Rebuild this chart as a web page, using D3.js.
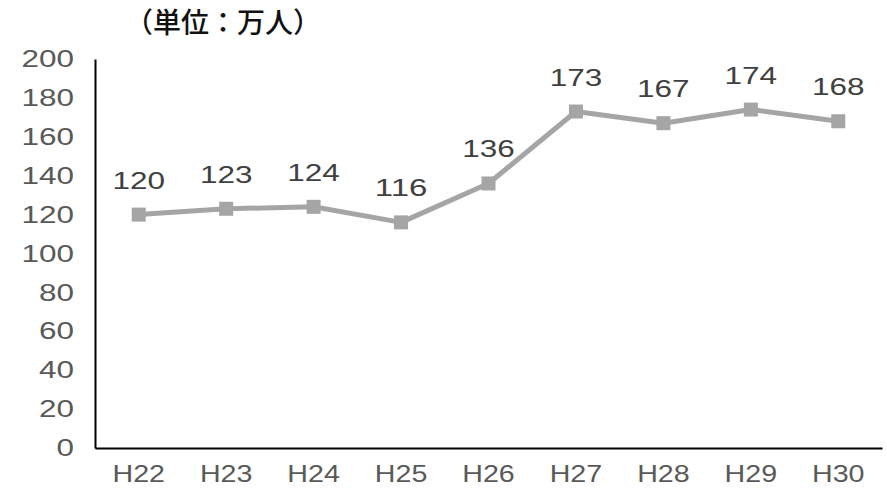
<!DOCTYPE html>
<html>
<head>
<meta charset="utf-8">
<script src="https://cdn.jsdelivr.net/npm/d3@7"></script>
<style>
  body { margin: 0; background: #fff; }
</style>
</head>
<body>
<script>
const years = ["H22", "H23", "H24", "H25", "H26", "H27", "H28", "H29", "H30"];
const visitors = [120, 123, 124, 116, 136, 173, 167, 174, 168];
const yTicks = [0, 20, 40, 60, 80, 100, 120, 140, 160, 180, 200];
const unitLabel = "（単位：万人）";

const width = 887;
const height = 490;
const svg = d3.create("svg").attr("width", width).attr("height", height);

const x = d3.scaleBand().domain(years).range([95, 882]);
const y = d3.scaleLinear().domain([0, 200]).range([448, 59]);

const numFont = "'Liberation Sans', Arial, sans-serif";
const charW = 17.5; // the original font has very wide, round digits

function wideText(sel, color) {
  sel.style("font-family", numFont)
    .style("font-size", "24px")
    .style("fill", color)
    .attr("lengthAdjust", "spacingAndGlyphs")
    .attr("textLength", function () { return this.textContent.length * charW; });
}

// unit title
svg.append("text")
  .attr("x", 125)
  .attr("y", 33)
  .style("font-family", "'Noto Sans CJK JP', sans-serif")
  .style("font-size", "28px")
  .style("font-weight", 500)
  .style("fill", "#111")
  .text(unitLabel);

// y axis
const yAxis = svg.append("g")
  .attr("transform", "translate(95,0)")
  .call(d3.axisLeft(y).tickValues(yTicks).tickSize(0).tickPadding(21));
yAxis.select(".domain").attr("stroke", "#000").attr("stroke-width", 2);
yAxis.selectAll("text").call(wideText, "#595959");

// x axis
const xAxis = svg.append("g")
  .attr("transform", "translate(0,448)")
  .call(d3.axisBottom(x).tickSize(0).tickPadding(17));
xAxis.select(".domain").attr("stroke", "#000").attr("stroke-width", 2);
xAxis.selectAll("text").call(wideText, "#595959");

const cx = d => x(d) + x.bandwidth() / 2;

// line
const line = d3.line()
  .x((d, i) => cx(years[i]))
  .y(d => y(d));

svg.append("path")
  .datum(visitors)
  .attr("d", line)
  .attr("fill", "none")
  .attr("stroke", "#a5a5a5")
  .attr("stroke-width", 5)
  .attr("stroke-linejoin", "round");

// markers
svg.selectAll("rect.mk")
  .data(visitors)
  .join("rect")
  .attr("class", "mk")
  .attr("x", (d, i) => cx(years[i]) - 7)
  .attr("y", d => y(d) - 7)
  .attr("width", 14)
  .attr("height", 14)
  .attr("fill", "#a5a5a5");

// data labels
svg.selectAll("text.lbl")
  .data(visitors)
  .join("text")
  .attr("class", "lbl")
  .attr("x", (d, i) => cx(years[i]))
  .attr("y", d => y(d) - 26)
  .attr("text-anchor", "middle")
  .text(d => d)
  .call(wideText, "#404040");

d3.select("body").append(() => svg.node());
</script>
</body>
</html>
